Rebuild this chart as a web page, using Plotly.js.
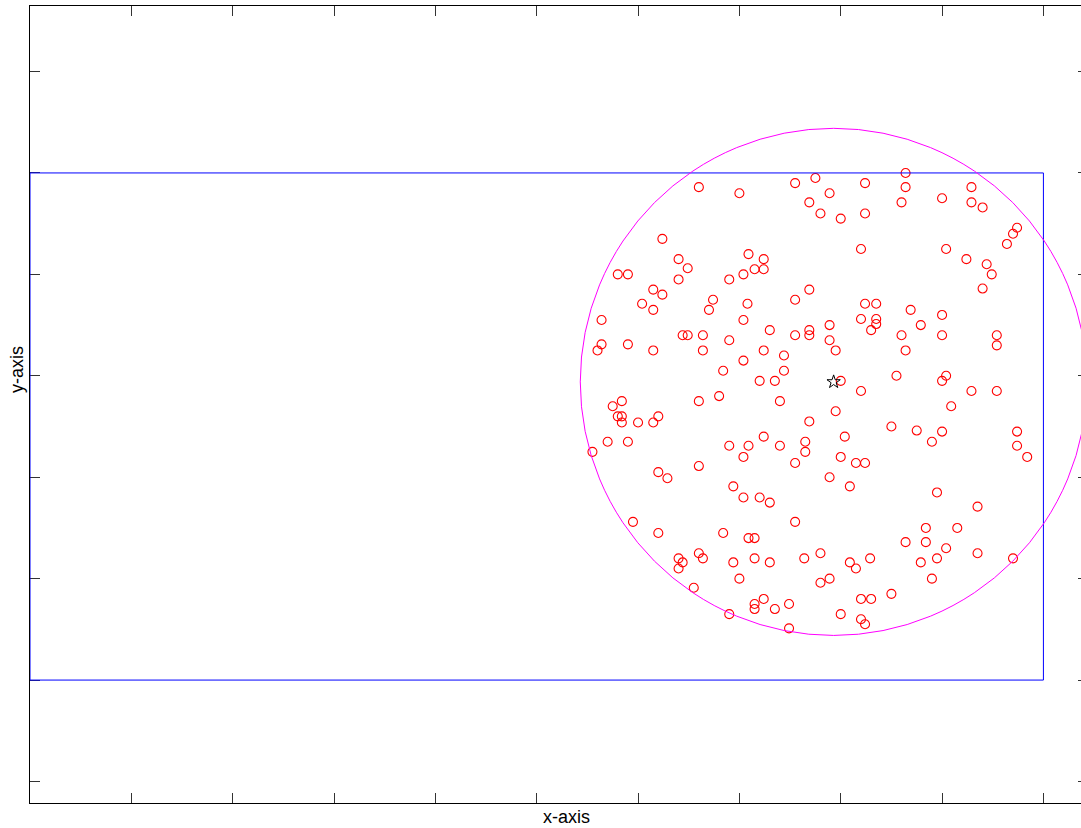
<!DOCTYPE html>
<html>
<head>
<meta charset="utf-8">
<script src="https://cdn.plot.ly/plotly-3.0.1.min.js"></script>
<style>
html,body{margin:0;padding:0;background:#fff;overflow:hidden;}
#chart{width:1100px;height:828px;}
</style>
</head>
<body>
<div id="chart"></div>
<script>
// Sample points (red open circles)
const pointsX = [
6.60,7.00,6.24,7.09,6.40,6.49,5.80,5.90,6.40,6.90,7.04,6.15,6.24,6.74,6.04,6.15,6.70,7.08,5.64,7.04,
7.55,7.75,8.24,8.64,8.64,8.60,7.89,7.69,7.80,8.00,8.24,8.20,7.24,7.15,7.24,7.69,7.55,8.24,8.35,8.69,8.20,8.35,
7.30,7.55,7.69,7.69,7.89,8.35,8.30,8.60,8.79,7.24,7.44,7.89,7.95,8.64,7.44,7.20,7.35,8.00,8.20,8.55,7.40,7.95,7.69,8.50,8.75,7.24,7.09,7.40,7.65,7.65,8.04,7.55,8.00,8.15,8.24,7.89,
9.00,9.54,9.54,9.04,9.00,9.29,9.54,9.09,9.00,8.90,9.74,9.74,9.84,
9.29,9.00,9.29,9.40,9.74,9.70,9.64,9.04,9.24,9.44,9.49,9.40,9.00,
6.44,6.49,6.64,6.90,5.64,5.60,5.90,6.15,6.64,7.04,6.84,5.84,5.75,5.80,5.84,5.84,6.00,6.15,6.20,6.60,6.80,5.70,5.90,5.55,6.90,7.04,6.60,6.20,6.29,
6.94,7.04,5.95,6.20,6.84,7.09,7.15,6.60,6.64,6.40,6.44,6.40,6.94,7.00,6.55,6.90,
8.09,7.20,7.30,7.55,7.15,7.30,7.64,7.80,8.09,8.15,8.29,8.64,8.79,7.80,7.89,8.50,8.20,8.30,7.24,7.15,7.15,7.35,7.49,8.00,8.20,8.24,7.49,
8.95,9.35,8.84,9.15,8.84,9.04,8.95,9.35,9.70,8.90
];
const pointsY = [
4.86,4.80,4.35,4.20,4.15,4.06,4.00,4.00,3.95,3.95,4.00,3.85,3.80,3.75,3.71,3.65,3.65,3.71,3.55,3.55,
4.90,4.95,4.90,5.00,4.86,4.71,4.80,4.71,4.60,4.55,4.60,4.25,4.15,4.05,4.05,3.85,3.75,3.71,3.71,3.65,3.56,3.56,
3.45,3.40,3.45,3.40,3.50,3.51,3.45,3.40,3.50,3.25,3.20,3.35,3.25,3.25,3.05,2.95,2.95,2.95,2.85,3.00,2.75,2.65,2.55,2.50,2.46,2.40,2.31,2.31,2.35,2.25,2.40,2.14,2.20,2.14,2.14,2.00,
3.40,3.40,3.30,3.00,2.95,2.85,2.85,2.70,2.45,2.35,2.45,2.31,2.20,
4.86,4.75,4.71,4.66,4.46,4.40,4.30,4.25,4.15,4.10,4.00,3.86,3.60,
3.40,3.40,3.40,3.35,3.31,3.25,3.31,3.25,3.25,3.15,3.05,2.75,2.70,2.60,2.60,2.54,2.54,2.54,2.60,2.75,2.80,2.35,2.35,2.25,2.31,2.20,2.11,2.05,1.99,
1.91,1.80,1.56,1.45,1.45,1.40,1.40,1.25,1.20,1.20,1.16,1.10,1.16,1.00,0.91,0.65,
1.91,1.80,1.75,1.56,1.20,1.16,1.20,1.25,1.16,1.10,1.20,1.36,1.16,0.96,1.00,0.85,0.80,0.80,0.80,0.75,0.70,0.70,0.75,0.65,0.60,0.55,0.51,
1.85,1.71,1.50,1.50,1.36,1.30,1.20,1.25,1.20,1.00
];
// Centre (star) and circle radius
const centerX = [7.93];
const centerY = [2.94];
const radius = 2.5;
// Bounding rectangle
const rectX = [0, 10];
const rectY = [0, 5];
// Axes
const xRange = [0, 10.44];
const yRange = [-1.212, 6.646];
const xTicks = [0,1,2,3,4,5,6,7,8,9,10];
const yTicks = [-1,0,1,2,3,4,5,6];

const traces = [
  {
    type: 'scatter', mode: 'markers', x: pointsX, y: pointsY,
    marker: {symbol: 'circle-open', size: 9, color: '#ff0000', line: {width: 1.1, color: '#ff0000'}},
    hoverinfo: 'x+y', showlegend: false
  },
  {
    type: 'scatter', mode: 'markers', x: centerX, y: centerY,
    marker: {symbol: 'star-open', size: 10, color: '#000000', line: {width: 1, color: '#000000'}},
    showlegend: false
  }
];

const axisCommon = {
  showgrid: false, zeroline: false, showticklabels: false,
  ticks: 'inside', ticklen: 10, tickwidth: 1, tickcolor: '#333',
  showline: true, linecolor: '#000', linewidth: 1, mirror: 'allticks'
};

const layout = {
  width: 1100, height: 828,
  margin: {l: 30, r: 12, t: 6, b: 25},
  paper_bgcolor: '#ffffff', plot_bgcolor: '#ffffff',
  showlegend: false,
  xaxis: Object.assign({}, axisCommon, {range: xRange, tickvals: xTicks}),
  yaxis: Object.assign({}, axisCommon, {range: yRange, tickvals: yTicks}),
  shapes: [
    {type: 'rect', xref: 'x', yref: 'y', x0: rectX[0], x1: rectX[1], y0: rectY[0], y1: rectY[1],
     line: {color: '#0000ff', width: 1}, layer: 'above'},
    {type: 'circle', xref: 'x', yref: 'y',
     x0: centerX[0] - radius, x1: centerX[0] + radius, y0: centerY[0] - radius, y1: centerY[0] + radius,
     line: {color: '#ff00ff', width: 1}, layer: 'above'}
  ],
  annotations: [
    {text: 'x-axis', xref: 'paper', yref: 'paper', x: (566-30)/1058, y: (803-817)/797, yanchor: 'middle', xanchor: 'center',
     showarrow: false, font: {family: 'Liberation Sans, Arial, sans-serif', size: 18, color: '#000'}},
    {text: 'y-axis', xref: 'paper', yref: 'paper', x: (17-30)/1058, xanchor: 'center', y: (803-370)/797, yanchor: 'middle',
     textangle: -90, showarrow: false, font: {family: 'Liberation Sans, Arial, sans-serif', size: 18, color: '#000'}}
  ]
};

Plotly.newPlot('chart', traces, layout, {displayModeBar: false, staticPlot: true});
</script>
</body>
</html>
